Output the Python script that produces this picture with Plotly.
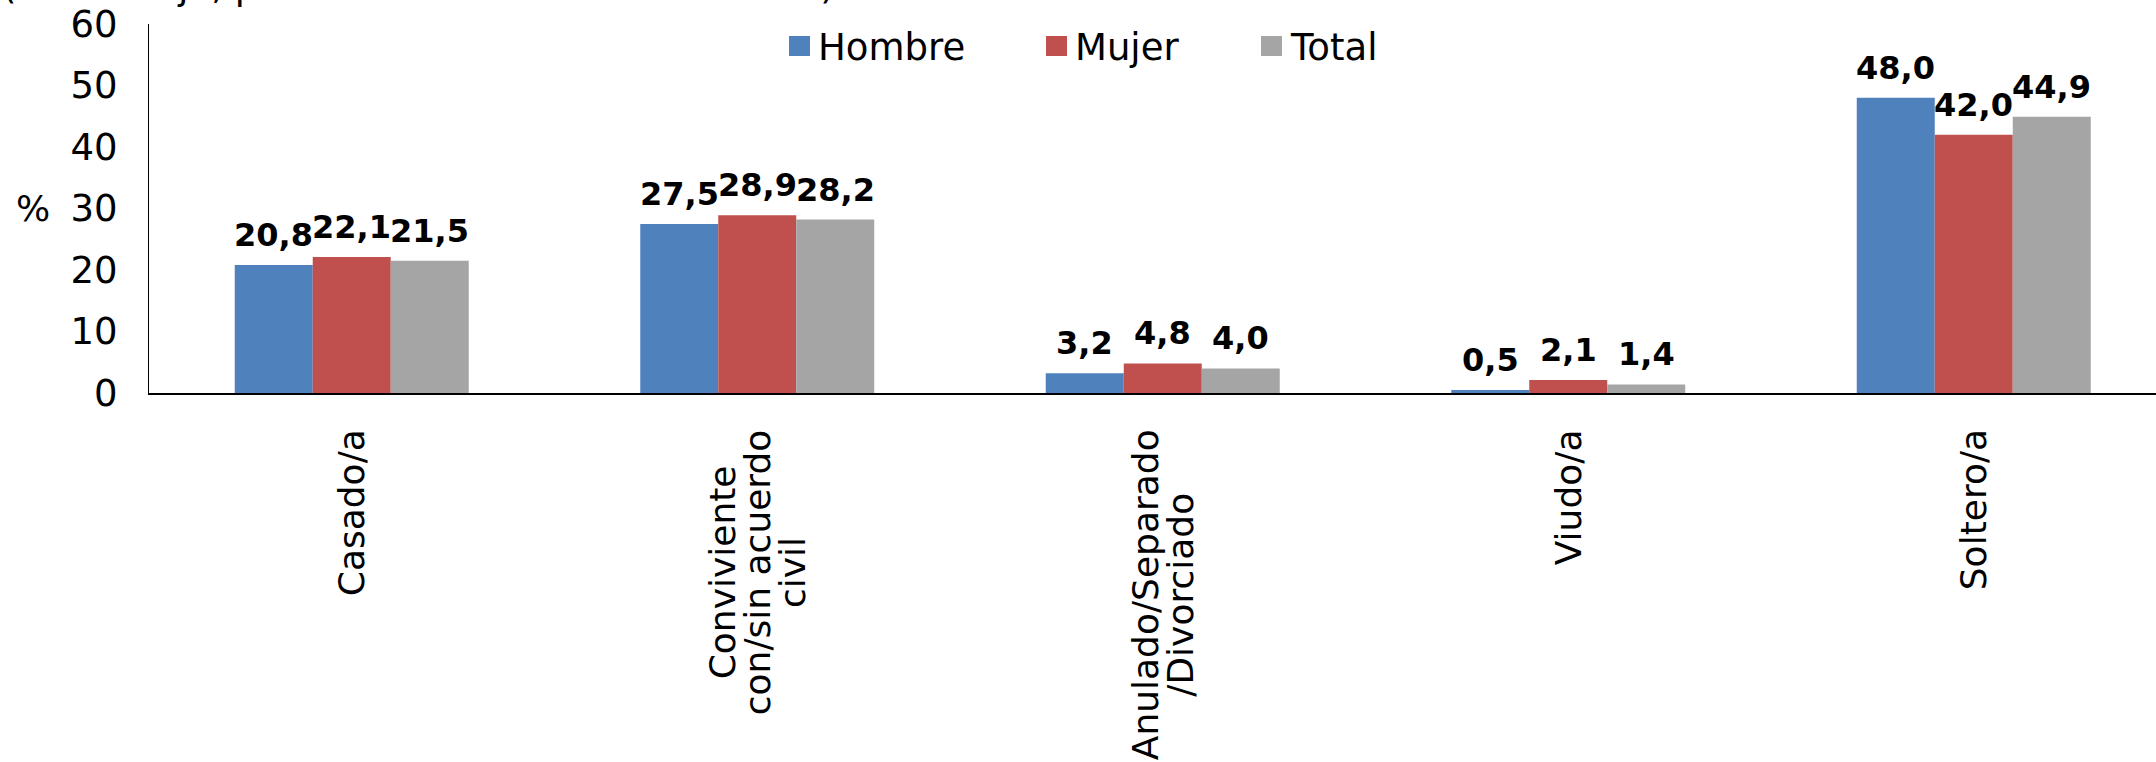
import plotly.graph_objects as go

# ---------------- data ----------------
categories = ["Casado/a", "Conviviente con/sin acuerdo civil", "Anulado/Separado /Divorciado",
              "Viudo/a", "Soltero/a"]
category_lines = [["Casado/a"], ["Conviviente", "con/sin acuerdo", "civil"],
                  ["Anulado/Separado", "/Divorciado"], ["Viudo/a"], ["Soltero/a"]]
series_names = ["Hombre", "Mujer", "Total"]
hombre = [20.8, 27.5, 3.2, 0.5, 48.0]
mujer = [22.1, 28.9, 4.8, 2.1, 42.0]
total = [21.5, 28.2, 4.0, 1.4, 44.9]
y_ticks = [0, 10, 20, 30, 40, 50, 60]
y_unit = "%"
title_text = "(Porcentaje, población total de 15 a 29 años)"

# ---------------- layout constants ----------------
OFF = 0  # page body margin removed via post_script
W, H = 2156, 762
L, T = 149 - OFF, 24 - OFF
PW, PH = 2007, 369
R = W - L - PW
B = H - T - PH
CAT_PX = 405.5
BARGAP = 0.423
BAR_PX = CAT_PX * (1 - BARGAP) / 3
colors = ["#4F81BD", "#C0504D", "#A5A5A5"]
FONT = "Verdana, DejaVu Sans, sans-serif"
legend_x_px = [789, 1046, 1261]


def px_x(px):  # page px -> paper
    return (px - OFF - L) / PW


def px_y(py):  # page px -> paper
    return (T + PH - (py - OFF)) / PH


def fmt(v):
    return f"{v:.1f}".replace(".", ",")


series = [hombre, mujer, total]

fig = go.Figure()
for name, vals, col in zip(series_names, series, colors):
    fig.add_trace(go.Bar(x=categories, y=vals, name=name, marker=dict(color=col, line=dict(width=0)),
                         showlegend=False, hoverinfo="x+y"))

annotations = []
# value labels
for i, vals in enumerate(series):
    for c, v in zip(categories, vals):
        annotations.append(dict(x=c, y=v, xref="x", yref="y", text=fmt(v), showarrow=False,
                                xanchor="center", yanchor="bottom", xshift=(i - 1) * BAR_PX, yshift=9,
                                font=dict(family=FONT, size=32, color="black", weight="bold")))

# category labels (rotated)
for c, lines in zip(categories, category_lines):
    txt = "<br>".join(f"<span style='font-size:36px'>{ln}</span>" for ln in lines)
    annotations.append(dict(x=c, y=0, xref="x", yref="y", text=txt, showarrow=False, textangle=-90,
                            xanchor="center", yanchor="top", yshift=-34, align="center",
                            font=dict(family=FONT, size=27, color="black")))

# unit label
annotations.append(dict(x=px_x(14), y=px_y(208), xref="paper", yref="paper", text=y_unit, showarrow=False,
                        xanchor="left", yanchor="middle", font=dict(family=FONT, size=36, color="black")))

# cut-off title (only its lowest part shows at the top edge)
annotations.append(dict(x=px_x(0), y=px_y(10), xref="paper", yref="paper", text=title_text, showarrow=False,
                        xanchor="left", yanchor="bottom", font=dict(family=FONT, size=37, color="black")))

# custom legend
shapes = []
for name, col, x0 in zip(series_names, colors, legend_x_px):
    shapes.append(dict(type="rect", xref="paper", yref="paper", x0=px_x(x0), x1=px_x(x0 + 21),
                       y0=px_y(56), y1=px_y(36), fillcolor=col, line=dict(width=0)))
    annotations.append(dict(x=px_x(x0 + 27), y=px_y(47), xref="paper", yref="paper", text=name,
                            showarrow=False, xanchor="left", yanchor="middle",
                            font=dict(family=FONT, size=37, color="black")))

fig.update_layout(
    width=W, height=H,
    margin=dict(l=L, r=R, t=T, b=B, pad=0, autoexpand=False),
    paper_bgcolor="white", plot_bgcolor="white",
    barmode="group", bargap=BARGAP, bargroupgap=0,
    showlegend=False,
    annotations=annotations, shapes=shapes,
    font=dict(family=FONT, color="black"),
)
fig.update_xaxes(type="category", range=[-0.5, -0.5 + PW / CAT_PX], showticklabels=False, ticks="",
                 showgrid=False, zeroline=False, showline=True, linecolor="black", linewidth=2,
                 automargin=False)
fig.update_yaxes(range=[0, 60], tickvals=y_ticks, ticktext=[str(t) for t in y_ticks], ticks="",
                 showgrid=False, zeroline=False, showline=True, linecolor="black", linewidth=1,
                 tickfont=dict(family=FONT, size=37, color="black"), ticklabelstandoff=23,
                 ticklabeloverflow="allow", automargin=False)

fig.write_html("out.html", post_script="document.body.style.margin='0';",
               config={"displayModeBar": False})
